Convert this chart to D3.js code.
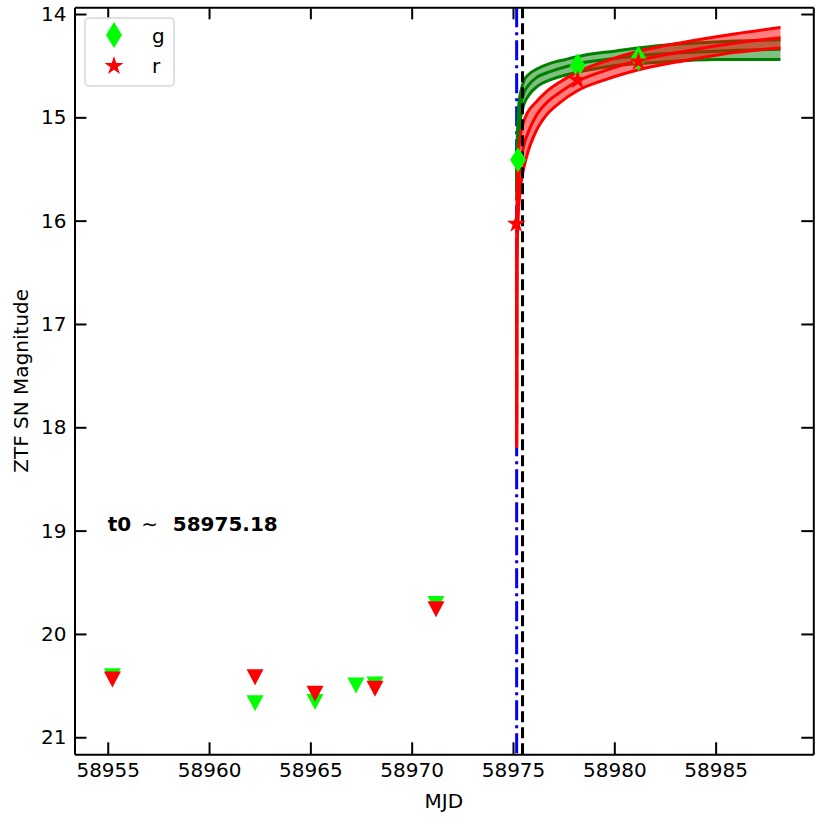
<!DOCTYPE html>
<html>
<head>
<meta charset="utf-8">
<script src="https://cdn.jsdelivr.net/npm/d3@7"></script>
<style>
  body { margin: 0; background: #fff; }
  text { font-family: "DejaVu Sans", sans-serif; }
</style>
</head>
<body>
<div id="chart"></div>
<script>
// Detections
var gMjd = [58975.25, 58978.19, 58981.19];
var gMag = [15.41, 14.50, 14.43];
var rMjd = [58975.16, 58978.19, 58981.19];
var rMag = [16.03, 14.64, 14.46];

// Upper limits (non-detections)
var gLimMjd = [58955.23, 58962.27, 58965.23, 58967.25, 58968.19, 58971.20];
var gLimMag = [20.41, 20.67, 20.66, 20.50, 20.49, 19.71];
var rLimMjd = [58955.23, 58962.27, 58965.23, 58968.19, 58971.20];
var rLimMag = [20.44, 20.42, 20.58, 20.53, 19.76];

// Fitted rise, g band (mid line and band edges)
var gFitMjd = [58975.18, 58975.20, 58975.25, 58975.30, 58975.40, 58975.55, 58975.80, 58976.20, 58976.80, 58977.60, 58978.50, 58980.00, 58982.00, 58985.00, 58988.20];
var gFitMid = [15.70, 15.45, 15.20, 15.00, 14.86, 14.76, 14.68, 14.61, 14.56, 14.51, 14.47, 14.43, 14.39, 14.36, 14.34];
var gFitHi = [15.60, 15.30, 15.02, 14.85, 14.74, 14.64, 14.58, 14.53, 14.48, 14.44, 14.40, 14.36, 14.31, 14.27, 14.25];
var gFitLo = [15.80, 15.60, 15.36, 15.15, 14.98, 14.87, 14.78, 14.70, 14.64, 14.59, 14.55, 14.50, 14.47, 14.44, 14.44];

// Fitted rise, r band
var rFitMjd = [58975.18, 58975.19, 58975.20, 58975.25, 58975.35, 58975.50, 58975.70, 58976.10, 58976.60, 58977.30, 58978.20, 58979.50, 58981.20, 58983.50, 58986.00, 58988.20];
var rFitMid = [18.17, 16.40, 16.05, 15.72, 15.48, 15.30, 15.17, 15.00, 14.87, 14.76, 14.65, 14.55, 14.45, 14.36, 14.28, 14.23];
var rFitHi = [18.10, 16.00, 15.75, 15.42, 15.20, 15.06, 14.96, 14.86, 14.76, 14.66, 14.56, 14.46, 14.36, 14.27, 14.19, 14.13];
var rFitLo = [18.20, 16.80, 16.40, 16.00, 15.72, 15.52, 15.36, 15.15, 14.99, 14.86, 14.74, 14.64, 14.54, 14.45, 14.37, 14.33];

var t0 = 58975.18;
var tDash = 58975.47;

var xTicks = [58955, 58960, 58965, 58970, 58975, 58980, 58985];
var yTicks = [14, 15, 16, 17, 18, 19, 20, 21];

// SVG
var svgWidth = 830;
var svgHeight = 830;
var margin = { top: 7.3, right: 16.7, bottom: 75.7, left: 74.5 };
var width = svgWidth - margin.left - margin.right;
var height = svgHeight - margin.top - margin.bottom;

var svg = d3.select("#chart")
    .append("svg")
    .attr("width", svgWidth)
    .attr("height", svgHeight);

var g = svg.append("g")
    .attr("transform", `translate(${margin.left}, ${margin.top})`);

var x = d3.scaleLinear().domain([58953.36, 58989.82]).range([0, width]);
var y = d3.scaleLinear().domain([13.935, 21.165]).range([0, height]);

function zip(xs, ys) {
    return xs.map((d, i) => [d, ys[i]]);
}

// vertical line at t0 (behind the fits)
g.append("line")
    .attr("x1", x(t0)).attr("x2", x(t0))
    .attr("y1", 0).attr("y2", height)
    .attr("stroke", "blue")
    .attr("stroke-width", 3)
    .attr("stroke-dasharray", "20,5,3,5");

var line = d3.line()
    .x(d => x(d[0]))
    .y(d => y(d[1]))
    .curve(d3.curveMonotoneX);

var area = d3.area()
    .x(d => x(d[0]))
    .y0(d => y(d[1]))
    .y1(d => y(d[2]))
    .curve(d3.curveMonotoneX);

function drawFit(mjd, mid, hi, lo, lineColor, fillColor) {
    g.append("path")
        .datum(mjd.map((d, i) => [d, lo[i], hi[i]]))
        .attr("d", area)
        .attr("fill", fillColor)
        .attr("fill-opacity", 0.5);
    [lo, mid, hi].forEach(function (arr) {
        g.append("path")
            .datum(zip(mjd, arr))
            .attr("d", line)
            .attr("fill", "none")
            .attr("stroke", lineColor)
            .attr("stroke-width", 3);
    });
}

drawFit(gFitMjd, gFitMid, gFitHi, gFitLo, "green", "green");
drawFit(rFitMjd, rFitMid, rFitHi, rFitLo, "red", "red");

// dashed line
g.append("line")
    .attr("x1", x(tDash)).attr("x2", x(tDash))
    .attr("y1", 0).attr("y2", height)
    .attr("stroke", "black")
    .attr("stroke-width", 3)
    .attr("stroke-dasharray", "11,5");

// marker shapes
var diamond = "M0,-12.5L8,0L0,12.5L-8,0Z";
var triangle = "M0,8L-8.5,-8L8.5,-8Z";
function starPath(R) {
    var r = R * 0.382;
    var pts = [];
    for (var i = 0; i < 10; i++) {
        var a = -Math.PI / 2 + i * Math.PI / 5;
        var rad = i % 2 === 0 ? R : r;
        pts.push([rad * Math.cos(a), rad * Math.sin(a)]);
    }
    return "M" + pts.map(p => p[0].toFixed(2) + "," + p[1].toFixed(2)).join("L") + "Z";
}
var star = starPath(10);

// upper limits
g.selectAll(".glim")
    .data(zip(gLimMjd, gLimMag))
    .enter()
    .append("path")
    .attr("d", triangle)
    .attr("transform", d => `translate(${x(d[0])}, ${y(d[1])})`)
    .attr("fill", "lime");

g.selectAll(".rlim")
    .data(zip(rLimMjd, rLimMag))
    .enter()
    .append("path")
    .attr("d", triangle)
    .attr("transform", d => `translate(${x(d[0])}, ${y(d[1])})`)
    .attr("fill", "red");

// detections
g.selectAll(".gdet")
    .data(zip(gMjd, gMag))
    .enter()
    .append("path")
    .attr("d", diamond)
    .attr("transform", d => `translate(${x(d[0])}, ${y(d[1])})`)
    .attr("fill", "lime");

g.selectAll(".rdet")
    .data(zip(rMjd, rMag))
    .enter()
    .append("path")
    .attr("d", star)
    .attr("transform", d => `translate(${x(d[0])}, ${y(d[1])})`)
    .attr("fill", "red");

// t0 note
var note = g.append("text")
    .attr("y", y(19.0))
    .attr("font-size", 20)
    .attr("font-weight", "bold");
note.append("tspan").attr("x", x(58955)).text("t0");
note.append("tspan").attr("x", x(58955) + 42).attr("text-anchor", "middle")
    .attr("font-weight", "normal").text("\u223C");
note.append("tspan").attr("x", x(58955) + 65).text("58975.18");

// Axes
var bottomAxis = d3.axisBottom(x).tickValues(xTicks).tickFormat(d3.format("d"))
    .tickSizeInner(-12).tickSizeOuter(0).tickPadding(9);
var topAxis = d3.axisTop(x).tickValues(xTicks).tickFormat("")
    .tickSizeInner(-12).tickSizeOuter(0);
var leftAxis = d3.axisLeft(y).tickValues(yTicks).tickFormat(d3.format("d"))
    .tickSizeInner(-12).tickSizeOuter(0).tickPadding(8);
var rightAxis = d3.axisRight(y).tickValues(yTicks).tickFormat("")
    .tickSizeInner(-12).tickSizeOuter(0);

var axes = [
    g.append("g").attr("transform", `translate(0, ${height})`).call(bottomAxis),
    g.append("g").call(topAxis),
    g.append("g").call(leftAxis),
    g.append("g").attr("transform", `translate(${width}, 0)`).call(rightAxis)
];
axes.forEach(function (a) {
    a.select(".domain").attr("stroke-width", 2);
    a.selectAll(".tick line").attr("stroke-width", 2);
    a.selectAll(".tick text").attr("font-size", 20).attr("fill", "black")
        .style("font-family", "DejaVu Sans, sans-serif");
});

// Axis labels
svg.append("text")
    .attr("x", margin.left + width / 2)
    .attr("y", 808)
    .attr("text-anchor", "middle")
    .attr("font-size", 20)
    .text("MJD");

svg.append("text")
    .attr("transform", `translate(28, ${margin.top + height / 2}) rotate(-90)`)
    .attr("text-anchor", "middle")
    .attr("font-size", 20)
    .text("ZTF SN Magnitude");

// Legend
var legend = svg.append("g");
legend.append("rect")
    .attr("x", 85).attr("y", 18)
    .attr("width", 89).attr("height", 68)
    .attr("rx", 4)
    .attr("fill", "white")
    .attr("fill-opacity", 0.8)
    .attr("stroke", "#d6d6d6")
    .attr("stroke-width", 1.5);

legend.append("path")
    .attr("d", "M0,-13L8,0L0,13L-8,0Z")
    .attr("transform", "translate(114, 35)")
    .attr("fill", "lime");
legend.append("path")
    .attr("d", star)
    .attr("transform", "translate(114, 66)")
    .attr("fill", "red");

legend.append("text").attr("x", 152).attr("y", 43).attr("font-size", 20).text("g");
legend.append("text").attr("x", 152).attr("y", 73).attr("font-size", 20).text("r");
</script>
</body>
</html>
